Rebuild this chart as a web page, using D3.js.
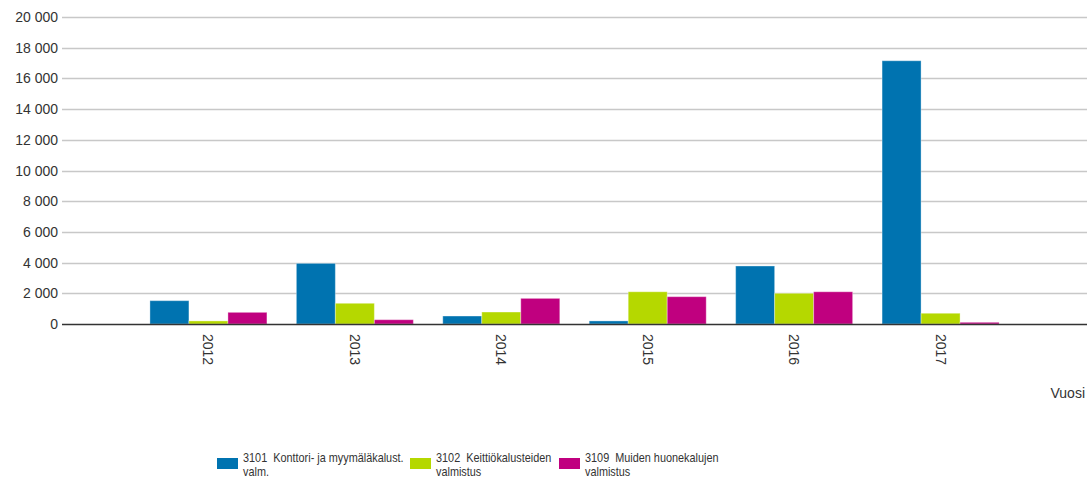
<!DOCTYPE html>
<html>
<head>
<meta charset="utf-8">
<script src="https://cdn.jsdelivr.net/npm/d3@7"></script>
<style>
  body { margin: 0; background: #fff; }
  svg { font-family: "Liberation Sans", Arial, sans-serif; }
</style>
</head>
<body>
<script>
(function(){

  //chart data
  var years = [2012, 2013, 2014, 2015, 2016, 2017];
  var legendLines = [["3101  Konttori- ja myymäläkalust.", "valm."], ["3102  Keittiökalusteiden", "valmistus"], ["3109  Muiden huonekalujen", "valmistus"]];
  var konttori = [1520, 3950, 520, 200, 3780, 17150];
  var keittio = [200, 1350, 780, 2100, 2000, 700];
  var muut = [760, 280, 1670, 1780, 2100, 110];
  var yTicks = [0, 2000, 4000, 6000, 8000, 10000, 12000, 14000, 16000, 18000, 20000];
  var colors = ["#0073B0", "#B5D800", "#C0007F"];

  var width = 1089, height = 478;
  var left = 62, right = 1087, top = 17, bottom = 324;

  var svg = d3.select("body").append("svg")
    .attr("width", width)
    .attr("height", height);

  var x = d3.scaleLinear().domain([2011, 2018]).range([left, right]);
  var y = d3.scaleLinear().domain([0, 20000]).range([bottom, top]);
  var bw = 39; //bar width

  var fmt = function(v){ return d3.format(",")(v).replace(/,/g, " "); };

  //gridlines
  svg.append("g").selectAll("line")
    .data(yTicks.filter(function(d){ return d > 0; }))
    .enter().append("line")
    .attr("x1", left).attr("x2", right)
    .attr("y1", function(d){ return Math.round(y(d)) + 0.5; })
    .attr("y2", function(d){ return Math.round(y(d)) + 0.5; })
    .attr("stroke", "#c8c8c8")
    .attr("stroke-width", 1.5);

  //y labels
  svg.append("g").selectAll("text")
    .data(yTicks)
    .enter().append("text")
    .attr("x", 58)
    .attr("y", function(d){ return y(d) + 5; })
    .attr("text-anchor", "end")
    .attr("font-size", "14px")
    .attr("fill", "#333")
    .text(fmt);

  //bars
  var allSeries = [konttori, keittio, muut];
  allSeries.forEach(function(vals, s){
    svg.append("g").selectAll("rect")
      .data(vals)
      .enter().append("rect")
      .attr("x", function(d, i){ return x(years[i]) - 1.5 * bw + s * bw; })
      .attr("y", function(d){ return y(d); })
      .attr("width", bw)
      .attr("height", function(d){ return y(0) - y(d); })
      .attr("fill", colors[s])
      .attr("stroke", "rgba(255,255,255,0.35)")
      .attr("stroke-width", 1);
  });

  //baseline
  svg.append("line")
    .attr("x1", left).attr("x2", right)
    .attr("y1", bottom + 0.5).attr("y2", bottom + 0.5)
    .attr("stroke", "#333")
    .attr("stroke-width", 1.5);

  //x labels, rotated
  svg.append("g").selectAll("text")
    .data(years)
    .enter().append("text")
    .attr("transform", function(d){ return "translate(" + (x(d) - 5) + "," + 334 + ") rotate(90)"; })
    .attr("font-size", "14px")
    .attr("fill", "#333")
    .text(function(d){ return d; });

  svg.append("text")
    .attr("x", 1085).attr("y", 398)
    .attr("text-anchor", "end")
    .attr("font-size", "14px")
    .attr("fill", "#333")
    .text("Vuosi");

  //legend
  var legX = [217, 410, 559];
  legendLines.forEach(function(lines, s){
    var g = svg.append("g").attr("transform", "translate(" + legX[s] + ",0)");
    g.append("rect")
      .attr("x", 0).attr("y", 458)
      .attr("width", 21).attr("height", 11)
      .attr("fill", colors[s]);
    g.selectAll("text")
      .data(lines)
      .enter().append("text")
      .attr("transform", function(d, i){ return "translate(26," + (462 + i * 13.5) + ") scale(0.87,1)"; })
      .attr("font-size", "12.5px")
      .attr("fill", "#333")
      .style("white-space", "pre")
      .text(function(d){ return d; });
  });
})();
</script>
</body>
</html>
